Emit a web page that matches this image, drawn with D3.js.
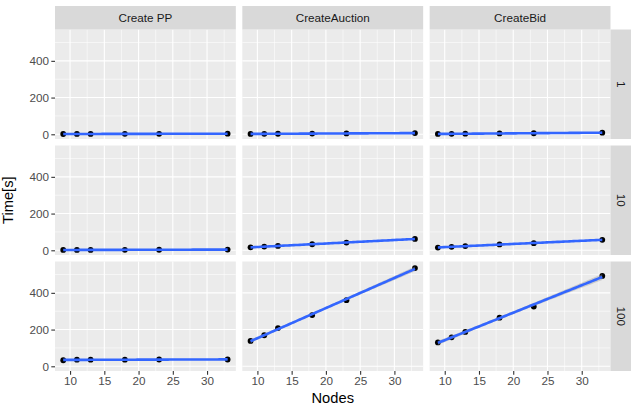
<!DOCTYPE html>
<html>
<head>
<meta charset="utf-8">
<script src="https://cdn.jsdelivr.net/npm/d3@7"></script>
<style>
  body { margin: 0; background: #fff; }
  text { font-family: "Liberation Sans", Arial, Helvetica, sans-serif; }
</style>
</head>
<body>
<svg id="chart" width="631" height="408"></svg>
<script>
// data
const nodes = [9, 11, 13, 18, 23, 33];
const operations = ["Create PP", "CreateAuction", "CreateBid"];
const loads = ["1", "10", "100"];
const xTicks = [10, 15, 20, 25, 30];
const yTicks = [0, 200, 400];

// one row per load (1, 10, 100), one value per node count
const timeCreatePP = [
  [1.5, 1.8, 2, 2.3, 2.6, 3.2],
  [1.8, 2, 2.2, 2.6, 3, 3.8],
  [33, 36, 36, 36, 37, 37]
];
const timeCreateAuction = [
  [2, 2.5, 3, 3.8, 4.6, 6.5],
  [16, 20, 24, 33, 42, 62],
  [138, 169, 208, 279, 360, 535]
];
const timeCreateBid = [
  [2, 2.6, 3.2, 4.5, 5.8, 9],
  [15, 19, 23, 32, 39, 57],
  [130, 158, 187, 265, 325, 492]
];
const series = [timeCreatePP, timeCreateAuction, timeCreateBid];

const svg = d3.select("#chart");
const mLeft = 55, mRight = 610.5, mTop = 29.5, mBottom = 371, gap = 6.5;
const pw = (mRight - mLeft - 2 * gap) / 3;
const ph = (mBottom - mTop - 2 * gap) / 3;
const stripH = 23.5, stripW = 21;

// linear fit with 95% band, like geom_smooth(method = "lm")
function lmFit(xs, ys) {
  const n = xs.length;
  const mx = d3.mean(xs), my = d3.mean(ys);
  let sxx = 0, sxy = 0;
  xs.forEach((x, i) => { sxx += (x - mx) ** 2; sxy += (x - mx) * (ys[i] - my); });
  const b = sxy / sxx, a = my - b * mx;
  let sse = 0;
  xs.forEach((x, i) => { sse += (ys[i] - a - b * x) ** 2; });
  const s = Math.sqrt(sse / (n - 2));
  const t = 2.776; // t(0.975, df = 4)
  const lo = d3.min(xs), hi = d3.max(xs);
  return d3.range(0, 81).map(k => {
    const x = lo + (hi - lo) * k / 80;
    const fit = a + b * x;
    const se = s * Math.sqrt(1 / n + (x - mx) ** 2 / sxx);
    return { x: x, y: fit, ymin: fit - t * se, ymax: fit + t * se };
  });
}

const fits = series.map(op => op.map(vals => lmFit(nodes, vals)));

// shared scales with 5% expansion
const xr = d3.extent(nodes);
const xe = (xr[1] - xr[0]) * 0.05;
const x = d3.scaleLinear().domain([xr[0] - xe, xr[1] + xe]).range([0, pw]);

let ymin = Infinity, ymax = -Infinity;
series.forEach((op, c) => op.forEach((vals, r) => {
  ymin = Math.min(ymin, d3.min(vals), d3.min(fits[c][r], d => d.ymin));
  ymax = Math.max(ymax, d3.max(vals), d3.max(fits[c][r], d => d.ymax));
}));
const ye = (ymax - ymin) * 0.05;
const y = d3.scaleLinear().domain([ymin - ye, ymax + ye]).range([ph, 0]);

const xMinor = xTicks.map(t => t + 2.5).concat([xTicks[0] - 2.5])
  .filter(t => t >= x.domain()[0] && t <= x.domain()[1]);
const yMinor = yTicks.map(t => t + 100).concat([yTicks[0] - 100])
  .filter(t => t >= y.domain()[0] && t <= y.domain()[1]);

const line = d3.line().x(d => x(d.x)).y(d => y(d.y));
const band = d3.area().x(d => x(d.x)).y0(d => y(d.ymin)).y1(d => y(d.ymax));

loads.forEach((load, r) => {
  operations.forEach((op, c) => {
    const px = mLeft + c * (pw + gap), py = mTop + r * (ph + gap);
    const g = svg.append("g").attr("transform", `translate(${px},${py})`);

    g.append("rect").attr("width", pw).attr("height", ph).attr("fill", "#EBEBEB");

    g.selectAll(".xminor").data(xMinor).join("line")
      .attr("x1", d => x(d)).attr("x2", d => x(d)).attr("y1", 0).attr("y2", ph)
      .attr("stroke", "#fff").attr("stroke-width", 0.55);
    g.selectAll(".yminor").data(yMinor).join("line")
      .attr("y1", d => y(d)).attr("y2", d => y(d)).attr("x1", 0).attr("x2", pw)
      .attr("stroke", "#fff").attr("stroke-width", 0.55);
    g.selectAll(".xmajor").data(xTicks).join("line")
      .attr("x1", d => x(d)).attr("x2", d => x(d)).attr("y1", 0).attr("y2", ph)
      .attr("stroke", "#fff").attr("stroke-width", 1.1);
    g.selectAll(".ymajor").data(yTicks).join("line")
      .attr("y1", d => y(d)).attr("y2", d => y(d)).attr("x1", 0).attr("x2", pw)
      .attr("stroke", "#fff").attr("stroke-width", 1.1);

    const vals = series[c][r];
    g.selectAll("circle").data(nodes).join("circle")
      .attr("cx", d => x(d)).attr("cy", (d, i) => y(vals[i]))
      .attr("r", 2.9).attr("fill", "#000");

    const fit = fits[c][r];
    g.append("path").attr("d", band(fit)).attr("fill", "#999").attr("fill-opacity", 0.4);
    g.append("path").attr("d", line(fit)).attr("fill", "none")
      .attr("stroke", "#3366FF").attr("stroke-width", 2.6);

    // axes on the outer panels
    if (c === 0) {
      const ax = g.append("g").call(d3.axisLeft(y).tickValues(yTicks).tickSize(3.7).tickPadding(2.2));
      ax.select(".domain").remove();
      ax.selectAll("line").attr("stroke", "#333").attr("stroke-width", 1.1);
      ax.selectAll("text").attr("fill", "#4D4D4D").style("font-size", "11.7px")
        .style("font-family", '"Liberation Sans", Arial, sans-serif');
    }
    if (r === loads.length - 1) {
      const ax = g.append("g").attr("transform", `translate(0,${ph})`)
        .call(d3.axisBottom(x).tickValues(xTicks).tickSize(3.7).tickPadding(2.2));
      ax.select(".domain").remove();
      ax.selectAll("line").attr("stroke", "#333").attr("stroke-width", 1.1);
      ax.selectAll("text").attr("fill", "#4D4D4D").style("font-size", "11.7px")
        .style("font-family", '"Liberation Sans", Arial, sans-serif');
    }

    // column strip
    if (r === 0) {
      svg.append("rect").attr("x", px).attr("y", mTop - stripH)
        .attr("width", pw).attr("height", stripH).attr("fill", "#D9D9D9");
      svg.append("text").attr("x", px + pw / 2).attr("y", mTop - stripH / 2)
        .attr("dy", "0.35em").attr("text-anchor", "middle")
        .attr("fill", "#1A1A1A").style("font-size", "11.7px").text(op);
    }
  });

  // row strip
  const py = mTop + r * (ph + gap);
  svg.append("rect").attr("x", mRight).attr("y", py)
    .attr("width", stripW).attr("height", ph).attr("fill", "#D9D9D9");
  svg.append("text")
    .attr("transform", `translate(${mRight + stripW / 2},${py + ph / 2}) rotate(90)`)
    .attr("dy", "0.35em").attr("text-anchor", "middle")
    .attr("fill", "#1A1A1A").style("font-size", "11.7px").text(load);
});

svg.append("text").attr("x", (mLeft + mRight) / 2).attr("y", 403)
  .attr("text-anchor", "middle").style("font-size", "14.7px").text("Nodes");
svg.append("text")
  .attr("transform", `translate(12.5,${(mTop + mBottom) / 2}) rotate(-90)`)
  .attr("text-anchor", "middle").style("font-size", "14.7px").text("Time[s]");
</script>
</body>
</html>
